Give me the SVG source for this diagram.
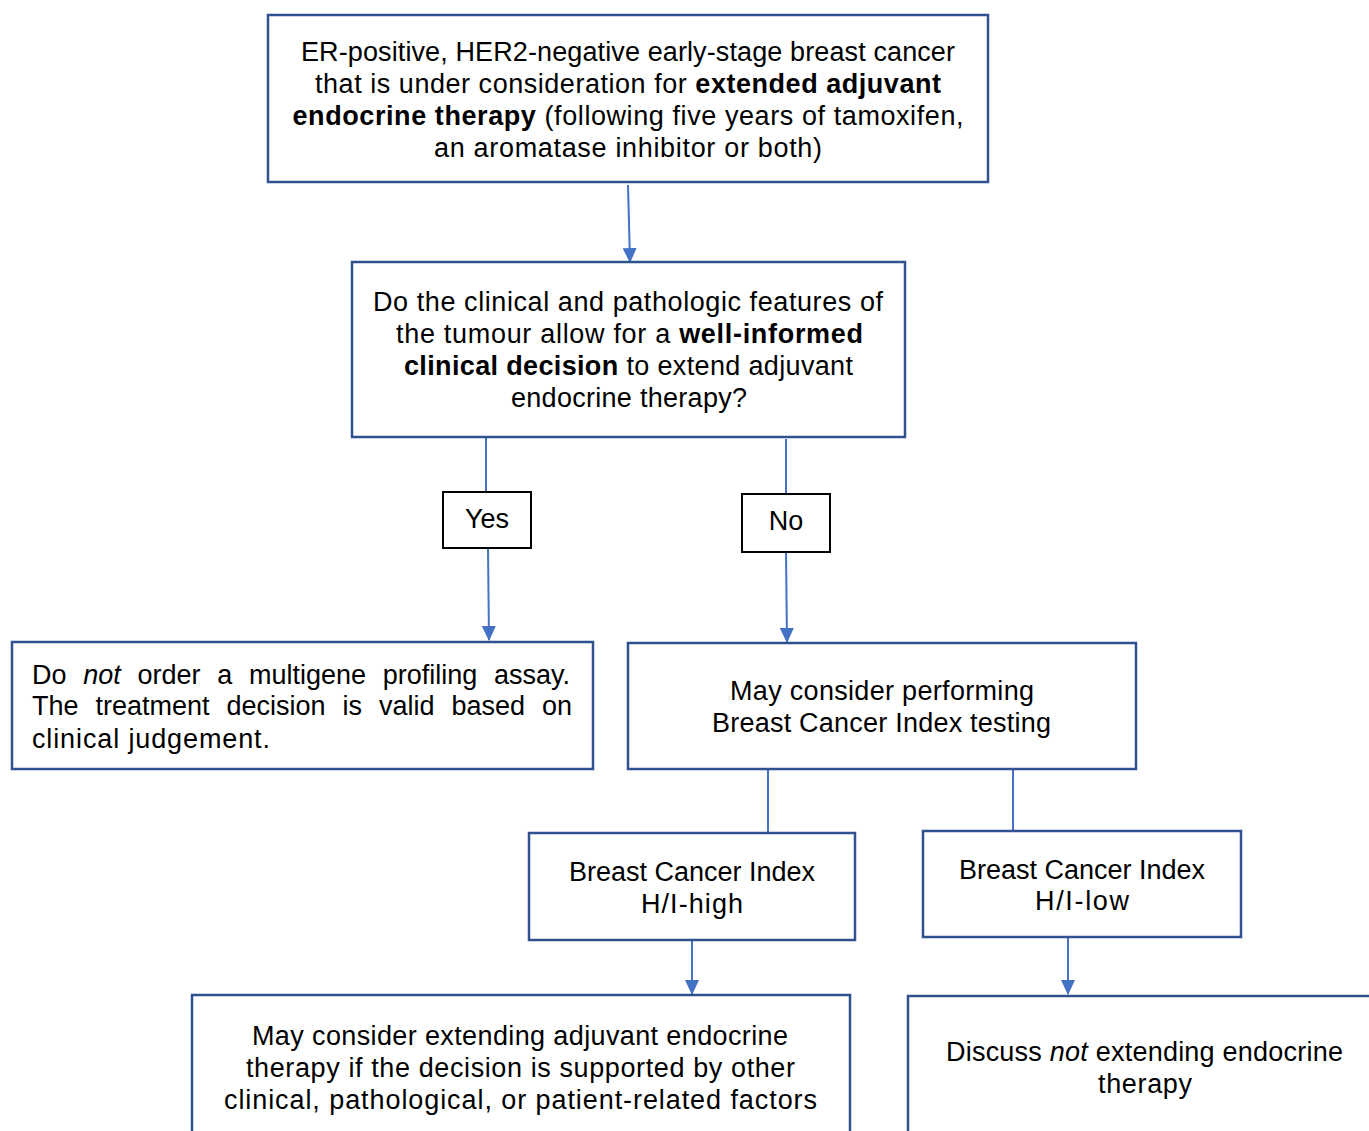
<svg xmlns="http://www.w3.org/2000/svg" width="1369" height="1131" viewBox="0 0 1369 1131">
<defs>
<style>
.box{fill:#fff;stroke:#2F528F;stroke-width:2.5}
.lbl{fill:#fff;stroke:#000;stroke-width:2}
.con{stroke:#4472C4;stroke-width:2;fill:none}
text{font-family:"Liberation Sans",Arial,sans-serif;font-size:27px;fill:#000}
.c{text-anchor:middle}
.b{font-weight:bold}
.i{font-style:italic}
</style>
<marker id="ad" markerUnits="userSpaceOnUse" markerWidth="15" markerHeight="14" refX="14" refY="7" orient="auto" viewBox="0 0 15 14">
<path d="M0,0 L15,7 L0,14 Z" fill="#4472C4"/>
</marker>
</defs>
<g id="connectors">
<line class="con" x1="628" y1="185" x2="630" y2="262" marker-end="url(#ad)"/>
<line class="con" x1="486" y1="437" x2="486" y2="492"/>
<line class="con" x1="786" y1="439" x2="786" y2="494"/>
<line class="con" x1="488" y1="548" x2="489" y2="640" marker-end="url(#ad)"/>
<line class="con" x1="786" y1="552" x2="787" y2="642" marker-end="url(#ad)"/>
<line class="con" x1="768" y1="769" x2="768" y2="833"/>
<line class="con" x1="1013" y1="768" x2="1013" y2="831"/>
<line class="con" x1="692" y1="940" x2="692" y2="994" marker-end="url(#ad)"/>
<line class="con" x1="1068" y1="937" x2="1068" y2="994" marker-end="url(#ad)"/>
</g>
<g id="start">
<rect class="box" x="268" y="15" width="720" height="167"/>
<text class="c" x="628" y="61" textLength="654">ER-positive, HER2-negative early-stage breast cancer</text>
<text class="c" x="628" y="93" textLength="626">that is under consideration for <tspan class="b">extended adjuvant</tspan></text>
<text class="c" x="628" y="125" textLength="671"><tspan class="b">endocrine therapy</tspan> (following five years of tamoxifen,</text>
<text class="c" x="628" y="157" textLength="388">an aromatase inhibitor or both)</text>
</g>
<g id="question">
<rect class="box" x="352" y="262" width="553" height="175"/>
<text class="c" x="628" y="311" textLength="510">Do the clinical and pathologic features of</text>
<text class="c" x="629.5" y="343" textLength="467">the tumour allow for a <tspan class="b">well-informed</tspan></text>
<text class="c" x="628.5" y="375" textLength="449"><tspan class="b">clinical decision</tspan> to extend adjuvant</text>
<text class="c" x="629" y="407" textLength="236">endocrine therapy?</text>
</g>
<g id="yes">
<rect class="lbl" x="443" y="492" width="88" height="56"/>
<text class="c" x="487" y="528">Yes</text>
</g>
<g id="no">
<rect class="lbl" x="742" y="494" width="88" height="58"/>
<text class="c" x="786" y="530">No</text>
</g>
<g id="no-assay">
<rect class="box" x="12" y="642" width="581" height="127"/>
<text x="32" y="684" word-spacing="9.2">Do <tspan class="i">not</tspan> order a multigene profiling assay.</text>
<text x="32" y="715" word-spacing="9.45">The treatment decision is valid based on</text>
<text x="32" y="748" textLength="238">clinical judgement.</text>
</g>
<g id="bci">
<rect class="box" x="628" y="643" width="508" height="126"/>
<text class="c" x="882" y="700" textLength="304">May consider performing</text>
<text class="c" x="881.5" y="732" textLength="339">Breast Cancer Index testing</text>
</g>
<g id="high">
<rect class="box" x="529" y="833" width="326" height="107"/>
<text class="c" x="692" y="881" textLength="246">Breast Cancer Index</text>
<text class="c" x="692" y="913" textLength="102">H/I-high</text>
</g>
<g id="low">
<rect class="box" x="923" y="831" width="318" height="106"/>
<text class="c" x="1082" y="879" textLength="246">Breast Cancer Index</text>
<text class="c" x="1082" y="910" textLength="94">H/I-low</text>
</g>
<g id="extend">
<rect class="box" x="192" y="995" width="658" height="150"/>
<text class="c" x="520" y="1045" textLength="536">May consider extending adjuvant endocrine</text>
<text class="c" x="520.5" y="1077" textLength="549">therapy if the decision is supported by other</text>
<text class="c" x="520.5" y="1109" textLength="593">clinical, pathological, or patient-related factors</text>
</g>
<g id="not-extend">
<rect class="box" x="908" y="996" width="475" height="150"/>
<text class="c" x="1144.5" y="1061" textLength="397">Discuss <tspan class="i">not</tspan> extending endocrine</text>
<text class="c" x="1145" y="1093" textLength="94">therapy</text>
</g>
</svg>
